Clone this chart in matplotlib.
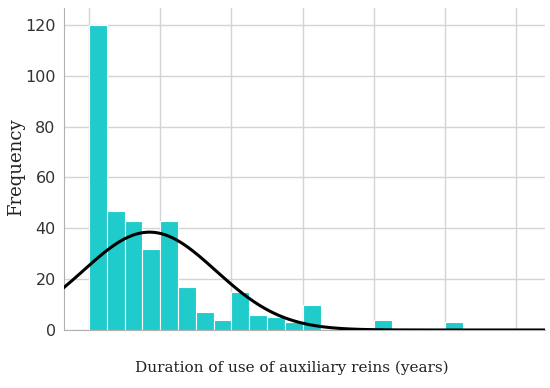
import numpy as np
import matplotlib
matplotlib.use("Agg")
import matplotlib.pyplot as plt

# histogram bins (years), width 2.5
bin_width = 2.5
bin_left = [0, 2.5, 5, 7.5, 10, 12.5, 15, 17.5, 20, 22.5, 25, 27.5, 30, 40, 50]
counts = [120, 47, 43, 32, 43, 17, 7, 4, 15, 6, 5, 3, 10, 4, 3]

# fitted normal curve parameters
curve_mean = 8.5
curve_sd = 9.3

y_ticks = [0, 20, 40, 60, 80, 100, 120]
x_grid = [0, 10, 20, 30, 40, 50, 60]

fig = plt.figure(figsize=(5.5, 3.88), dpi=100)
ax = fig.add_axes([0.1164, 0.1495, 0.8745, 0.83])

ax.set_axisbelow(True)
ax.grid(True, color="#d4d4d4", linewidth=1.0)

ax.bar(bin_left, counts, width=bin_width, align="edge",
       color="#1fcbcb", edgecolor="white", linewidth=0.8, zorder=2)

n_total = sum(counts)
xs = np.linspace(-3.5, 64, 400)
ys = n_total * bin_width / (curve_sd * np.sqrt(2 * np.pi)) * np.exp(-0.5 * ((xs - curve_mean) / curve_sd) ** 2)
ax.plot(xs, ys, color="black", linewidth=2.2, zorder=3)

ax.set_xlim(-3.5, 64)
ax.set_ylim(0, 126.7)
ax.set_yticks(y_ticks)
ax.set_xticks(x_grid)
ax.set_xticklabels([])
ax.tick_params(axis="x", length=0)
ax.tick_params(axis="y", length=0, labelsize=11.5, labelcolor="#333333", pad=6)

for s in ["top", "right"]:
    ax.spines[s].set_visible(False)
ax.spines["left"].set_color("#b0b0b0")
ax.spines["bottom"].set_color("#b0b0b0")

fig.text(0.03, 0.57, "Frequency", rotation=90, ha="center", va="center",
         family="DejaVu Serif", fontsize=13, color="#222222")
fig.text(0.53, 0.052, "Duration of use of auxiliary reins (years)", ha="center", va="center",
         family="DejaVu Serif", fontsize=11, color="#222222")

fig.savefig("out.png", dpi=100)
